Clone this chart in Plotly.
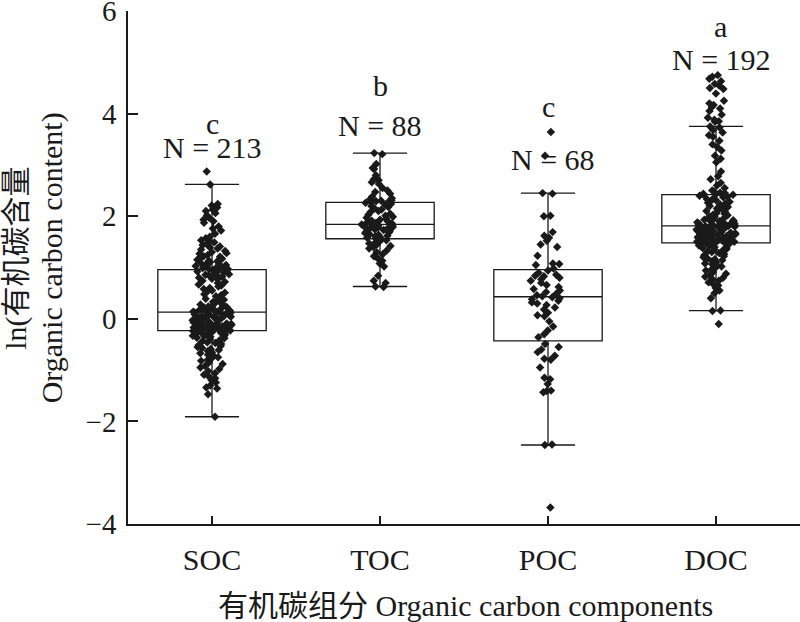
import plotly.graph_objects as go

categories = ["SOC", "TOC", "POC", "DOC"]
letters = ["c", "b", "c", "a"]

# box statistics (ln organic carbon content)
q1 = [-0.23, 1.56, -0.43, 1.48]
median = [0.13, 1.84, 0.43, 1.81]
q3 = [0.96, 2.27, 0.96, 2.42]
lower_whisker = [-1.91, 0.63, -2.46, 0.16]
upper_whisker = [2.62, 3.23, 2.45, 3.75]

soc = [2.87, 2.62, 2.24, 2.21, 2.17, 2.13, 2.10, 2.06, 2.02, 1.97, 1.93, 1.90, 1.87, 1.80, 1.76,
       1.72, 1.66, 1.60, 1.57, 1.53, 1.51, 1.49, 1.46, 1.44, 1.41, 1.39, 1.37, 1.35, 1.32, 1.30,
       1.28, 1.27, 1.24, 1.22, 1.21, 1.19, 1.17, 1.15, 1.13, 1.12, 1.10, 1.09, 1.07, 1.06, 1.05,
       1.03, 1.02, 1.01, 0.99, 0.98, 0.97, 0.97, 0.96,
       0.95, 0.94, 0.93, 0.92, 0.90, 0.89, 0.87, 0.86, 0.85, 0.83, 0.82, 0.80, 0.78, 0.77, 0.74,
       0.72, 0.70, 0.67, 0.65, 0.63, 0.60, 0.58, 0.55, 0.53, 0.51, 0.48, 0.46, 0.44, 0.41, 0.39,
       0.37, 0.35, 0.33, 0.31, 0.30, 0.28, 0.27, 0.26, 0.25, 0.24, 0.23, 0.22, 0.21, 0.20, 0.19,
       0.18, 0.17, 0.17, 0.16, 0.15, 0.15, 0.14, 0.14,
       0.13, 0.12, 0.12, 0.11, 0.10, 0.10, 0.09, 0.08, 0.08, 0.07, 0.06, 0.05, 0.05, 0.04, 0.03,
       0.02, 0.02, 0.01, 0.00, 0.00, -0.01, -0.02, -0.03, -0.03, -0.04, -0.05, -0.06, -0.07, -0.07,
       -0.08, -0.09, -0.10, -0.10, -0.11, -0.12, -0.13, -0.13, -0.14, -0.15, -0.15, -0.16, -0.17,
       -0.17, -0.18, -0.19, -0.19, -0.20, -0.20, -0.21, -0.21, -0.22, -0.22, -0.23, -0.23,
       -0.24, -0.25, -0.26, -0.27, -0.28, -0.29, -0.30, -0.31, -0.32, -0.33, -0.34, -0.35, -0.36,
       -0.37, -0.38, -0.40, -0.42, -0.44, -0.46, -0.47, -0.49, -0.51, -0.53, -0.55, -0.57, -0.59,
       -0.61, -0.63, -0.65, -0.67, -0.70, -0.72, -0.75, -0.77, -0.80, -0.82, -0.85, -0.88, -0.92,
       -0.95, -0.98, -1.02, -1.06, -1.09, -1.12, -1.16, -1.20, -1.24, -1.30, -1.34, -1.36, -1.47,
       -1.91]

toc = [3.23, 3.21, 3.02, 2.94, 2.92, 2.80, 2.72, 2.70, 2.66, 2.63, 2.55, 2.50, 2.47, 2.44, 2.38,
       2.35, 2.33, 2.31, 2.30, 2.29, 2.28, 2.27,
       2.26, 2.24, 2.22, 2.20, 2.18, 2.15, 2.13, 2.10, 2.08, 2.05, 2.03, 2.01, 1.99, 1.97, 1.95,
       1.93, 1.91, 1.90, 1.88, 1.87, 1.86, 1.85,
       1.84, 1.83, 1.82, 1.81, 1.80, 1.79, 1.78, 1.77, 1.76, 1.74, 1.73, 1.71, 1.70, 1.68, 1.67,
       1.65, 1.64, 1.62, 1.61, 1.59, 1.58, 1.57,
       1.55, 1.53, 1.51, 1.49, 1.47, 1.45, 1.42, 1.40, 1.37, 1.33, 1.30, 1.26, 1.22, 1.18, 1.13,
       1.08, 1.02, 0.84, 0.74, 0.70, 0.63, 0.62]

poc = [3.64, 3.18, 2.45, 2.44, 2.01, 2.00, 1.69, 1.62, 1.58, 1.52, 1.45, 1.40, 1.23, 1.08, 1.07,
       1.05, 0.98,
       0.94, 0.90, 0.86, 0.84, 0.83, 0.80, 0.77, 0.74, 0.70, 0.66, 0.62, 0.58, 0.55, 0.52, 0.49,
       0.46, 0.44,
       0.42, 0.40, 0.38, 0.35, 0.32, 0.30, 0.27, 0.22, 0.18, 0.12, 0.07, 0.05, -0.05, -0.15, -0.23,
       -0.30, -0.36,
       -0.49, -0.55, -0.60, -0.65, -0.72, -0.78, -0.80, -0.95, -1.15, -1.18, -1.27, -1.40, -1.41,
       -1.43, -2.45, -2.46, -3.68]

doc = [4.75, 4.72, 4.68, 4.63, 4.58, 4.55, 4.50, 4.48, 4.39, 4.25, 4.20, 4.17, 4.13, 4.10, 4.05,
       3.98, 3.92, 3.88, 3.85, 3.84, 3.75, 3.73, 3.68, 3.63, 3.58, 3.55, 3.47, 3.40, 3.35, 3.28,
       3.18, 3.12, 3.05, 2.87, 2.78, 2.72, 2.65, 2.60, 2.55, 2.50, 2.48, 2.46, 2.45, 2.44, 2.43,
       2.43, 2.42, 2.42,
       2.41, 2.40, 2.38, 2.37, 2.35, 2.33, 2.31, 2.30, 2.28, 2.26, 2.25, 2.23, 2.21, 2.20, 2.18,
       2.16, 2.15, 2.13, 2.11, 2.10, 2.08, 2.06, 2.05, 2.03, 2.02, 2.00, 1.99, 1.97, 1.96, 1.95,
       1.94, 1.93, 1.92, 1.91, 1.90, 1.89, 1.88, 1.87, 1.86, 1.85, 1.85, 1.84, 1.84, 1.83, 1.83,
       1.82, 1.82, 1.81,
       1.81, 1.80, 1.80, 1.79, 1.79, 1.78, 1.78, 1.77, 1.76, 1.76, 1.75, 1.74, 1.74, 1.73, 1.72,
       1.71, 1.71, 1.70, 1.69, 1.68, 1.68, 1.67, 1.66, 1.65, 1.64, 1.63, 1.63, 1.62, 1.61, 1.60,
       1.59, 1.58, 1.58, 1.57, 1.56, 1.55, 1.55, 1.54, 1.53, 1.52, 1.52, 1.51, 1.50, 1.50, 1.49,
       1.49, 1.48, 1.48,
       1.47, 1.46, 1.45, 1.44, 1.43, 1.42, 1.40, 1.39, 1.38, 1.36, 1.35, 1.33, 1.31, 1.30, 1.28,
       1.26, 1.24, 1.22, 1.20, 1.18, 1.16, 1.14, 1.12, 1.10, 1.08, 1.06, 1.04, 1.02, 1.00, 0.97,
       0.94, 0.91, 0.88, 0.85, 0.82, 0.80, 0.77, 0.74, 0.71, 0.68, 0.65, 0.60, 0.55, 0.50, 0.40,
       0.16, 0.15, -0.10]

samples = [soc, toc, poc, doc]

# label anchor heights (data units) for significance letters and N labels
letter_y = [3.45, 4.18, 3.77, 5.34]
n_y = [2.97, 3.40, 2.75, 4.70]
n_xshift = [0, 0, 5, 5]
letter_xshift = [0, 0, 0, 4]

FONT = "Liberation Serif, Times New Roman, Noto Sans CJK SC, serif"
INK = "#1a1a1a"
BOXW = 0.645

fig = go.Figure()
fig.add_trace(go.Box(
    x=categories, q1=q1, median=median, q3=q3,
    lowerfence=lower_whisker, upperfence=upper_whisker,
    width=BOXW, whiskerwidth=0.5, boxpoints=False,
    fillcolor="rgba(255,255,255,0)", line=dict(color=INK, width=1.3),
    showlegend=False, hoverinfo="skip",
))
for cat, vals in zip(categories, samples):
    fig.add_trace(go.Box(
        x=[cat] * len(vals), y=vals, width=BOXW,
        boxpoints="all", jitter=0.36, pointpos=0,
        fillcolor="rgba(0,0,0,0)", line=dict(width=0, color="rgba(0,0,0,0)"),
        marker=dict(symbol="diamond", size=6.5, color=INK),
        showlegend=False, hoverinfo="skip",
    ))

annotations = []
for i, cat in enumerate(categories):
    annotations.append(dict(x=cat, y=letter_y[i], text=letters[i], showarrow=False,
                            yanchor="bottom", xanchor="center", xshift=letter_xshift[i],
                            font=dict(size=30)))
    annotations.append(dict(x=cat, y=n_y[i], text=f"N = {len(samples[i])}", showarrow=False,
                            yanchor="bottom", xanchor="center", xshift=n_xshift[i],
                            font=dict(size=30)))
annotations.append(dict(xref="paper", yref="paper", x=-0.166, y=0.518,
                        text="ln(有机碳含量", textangle=-90,
                        showarrow=False, xanchor="center", yanchor="middle",
                        font=dict(size=30)))
annotations.append(dict(xref="paper", yref="paper", x=-0.113, y=0.518,
                        text="Organic carbon content)", textangle=-90,
                        showarrow=False, xanchor="center", yanchor="middle",
                        font=dict(size=30)))
annotations.append(dict(xref="paper", yref="paper", x=0.5015, y=-0.158,
                        text="有机碳组分 Organic carbon components",
                        showarrow=False, xanchor="center", yanchor="middle",
                        font=dict(size=30)))

fig.update_layout(
    width=800, height=622,
    margin=dict(l=128, r=0, t=11, b=98, autoexpand=False),
    paper_bgcolor="white", plot_bgcolor="white",
    font=dict(family=FONT, color=INK, size=29),
    boxmode="overlay",
    annotations=annotations,
    xaxis=dict(type="category", categoryorder="array", categoryarray=categories,
               range=[-0.5, 3.5], showline=True, linecolor=INK, linewidth=1.5,
               ticks="inside", ticklen=8, tickwidth=1.5, tickcolor=INK,
               ticklabelstandoff=8, automargin=False,
               showgrid=False, zeroline=False, tickfont=dict(size=30)),
    yaxis=dict(range=[-4.0005, 6.0005], tickvals=[-4, -2, 0, 2, 4, 6],
               ticktext=["\u22124", "\u22122", "0", "2", "4", "6"],
               showline=True, linecolor=INK, linewidth=1.5,
               ticks="inside", ticklen=10, tickwidth=1.5, tickcolor=INK,
               ticklabelstandoff=4, automargin=False, ticklabeloverflow="allow",
               showgrid=False, zeroline=False, tickfont=dict(size=29)),
)

fig.write_html("out.html", config={"displayModeBar": False},
               post_script="document.body.style.margin='0px';")
